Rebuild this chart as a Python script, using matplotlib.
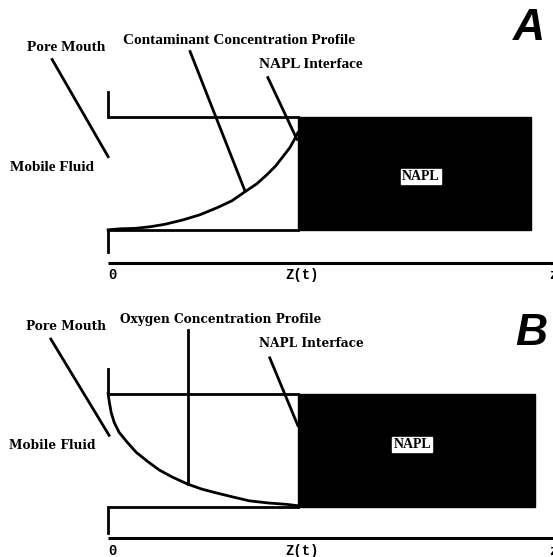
import matplotlib
matplotlib.use("Agg")
import matplotlib.pyplot as plt
from matplotlib.patches import Rectangle

# schematic units: depth 0 = pore mouth, 1 = Z(t); concentration 0 = lower wall, 1 = upper wall
napl_end = [2.23, 2.25]
tick_pos = [0.0, 1.02, 2.326]
tick_lab = ["0", "Z(t)", "z"]

# contaminant profile (panel A)
cont_x = [0.0, 0.063, 0.142, 0.221, 0.300, 0.395, 0.484, 0.574, 0.653, 0.721,
          0.784, 0.837, 0.884, 0.921, 0.958, 0.984, 1.0]
cont_y = [0.0, 0.009, 0.013, 0.027, 0.049, 0.088, 0.133, 0.195, 0.257, 0.336,
          0.407, 0.487, 0.566, 0.646, 0.726, 0.805, 0.858]

# oxygen profile (panel B)
oxy_x = [0.0, 0.005, 0.016, 0.032, 0.058, 0.101, 0.148, 0.206, 0.270, 0.339,
         0.418, 0.492, 0.571, 0.656, 0.746, 0.841, 0.942, 1.0]
oxy_y = [1.0, 0.939, 0.833, 0.746, 0.658, 0.570, 0.482, 0.404, 0.325, 0.263,
         0.202, 0.158, 0.123, 0.088, 0.053, 0.035, 0.022, 0.01]

panels = [
    {
        "letter": "A", "letter_xy": (2.22, 1.78),
        "curve": (cont_x, cont_y),
        "profile_text": "Contaminant Concentration Profile", "profile_xy": (0.69, 1.673),
        "profile_leader": ([0.432, 0.721], [1.575, 0.345]),
        "pore_xy": (-0.221, 1.611), "pore_leader": ([-0.295, 0.0], [1.504, 0.646]),
        "napl_xy": (1.068, 1.46), "napl_leader": ([0.842, 0.995], [1.345, 0.80]),
        "fluid_xy": (-0.297, 0.549), "label_xy": (1.647, 0.469),
        "axis_y": -0.289, "tick_y": -0.40, "bracket_low": -0.2,
        "font": "Liberation Serif", "fs": 11,
    },
    {
        "letter": "B", "letter_xy": (2.23, 1.535),
        "curve": (oxy_x, oxy_y),
        "profile_text": "Oxygen Concentration Profile", "profile_xy": (0.593, 1.658),
        "profile_leader": ([0.423, 0.423], [1.561, 0.202]),
        "pore_xy": (-0.22, 1.596), "pore_leader": ([-0.302, 0.005], [1.482, 0.632]),
        "napl_xy": (1.069, 1.447), "napl_leader": ([0.852, 1.0], [1.316, 0.719]),
        "fluid_xy": (-0.296, 0.544), "label_xy": (1.603, 0.553),
        "axis_y": -0.275, "tick_y": -0.39, "bracket_low": -0.23,
        "font": "DejaVu Serif", "fs": 8.7,
    },
]

fig = plt.figure(figsize=(5.53, 5.57), dpi=100)
boxes = [[0, 0.501, 1, 0.499], [0, 0.0036, 1, 0.499]]

for p, (box, end) in zip(panels, zip(boxes, napl_end)):
    ax = fig.add_axes(box)
    ax.set_xlim(-0.57, 2.345)
    ax.set_ylim(-0.425, 2.03)
    ax.axis("off")
    lw = 2.0
    # pore walls
    ax.plot([0, 0, 1], [1.22, 1, 1], color="black", lw=lw, solid_joinstyle="miter")
    ax.plot([0, 0, 1], [p["bracket_low"], 0, 0], color="black", lw=lw, solid_joinstyle="miter")
    ax.add_patch(Rectangle((1, 0), end - 1, 1, facecolor="black", edgecolor="black", lw=1))
    ax.text(p["label_xy"][0], p["label_xy"][1], "NAPL", ha="center", va="center",
            fontsize=10, family="Liberation Serif", fontweight="bold",
            bbox=dict(facecolor="white", edgecolor="white", pad=0.8))
    # profile curve
    ax.plot(p["curve"][0], p["curve"][1], color="black", lw=lw, solid_joinstyle="round")
    # leader lines
    for key in ["pore_leader", "profile_leader", "napl_leader"]:
        ax.plot(p[key][0], p[key][1], color="black", lw=lw)
    tk = dict(family=p["font"], fontweight="bold", fontsize=p["fs"], ha="center", va="center")
    ax.text(*p["pore_xy"], "Pore Mouth", **tk)
    ax.text(*p["profile_xy"], p["profile_text"], **tk)
    ax.text(*p["napl_xy"], "NAPL Interface", **tk)
    ax.text(*p["fluid_xy"], "Mobile Fluid", **tk)
    ax.text(*p["letter_xy"], p["letter"], family="Liberation Sans", fontweight="bold",
            style="italic", fontsize=32, ha="center", va="center")
    # depth axis
    ax.plot([0, 2.345], [p["axis_y"]] * 2, color="black", lw=2.2, solid_capstyle="butt")
    for pos, lab in zip(tick_pos, tick_lab):
        ha = "center" if lab == "Z(t)" else "left"
        ax.text(pos, p["tick_y"], lab, family="Liberation Mono", fontweight="bold",
                fontsize=10, ha=ha, va="center")

fig.savefig("out.png", dpi=100)
